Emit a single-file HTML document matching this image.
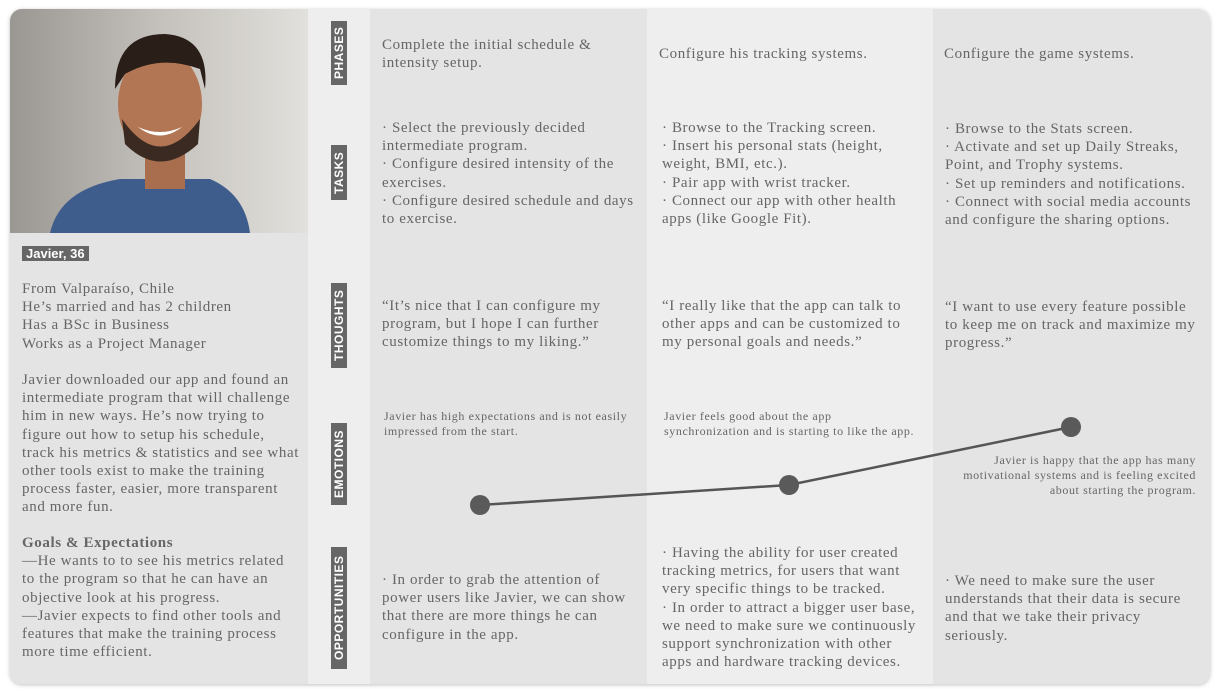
<!DOCTYPE html>
<html><head><style>
body{margin:0;width:1220px;height:695px;background:#fff;position:relative;font-family:"Liberation Serif",serif;color:#666;overflow:hidden}
.card{position:absolute;left:10px;top:9px;width:1200px;height:675px;border-radius:12px;overflow:hidden;background:#eeeeee;box-shadow:0 1px 4px rgba(0,0,0,.25)}
.p{position:absolute;font-size:15px;letter-spacing:0.6px;line-height:18.2px;margin:0;white-space:nowrap}
.s{font-size:12px;letter-spacing:0.6px;line-height:15px}
.lab{position:absolute;left:321px;width:16px;background:#666;color:#fff;font-family:"Liberation Sans",sans-serif;font-weight:bold;font-size:12px;writing-mode:vertical-rl;transform:rotate(180deg);text-align:center;letter-spacing:.5px;line-height:16px}
</style></head><body>
<div class="card">
<div style="position:absolute;left:0;top:0;width:298px;height:675px;background:#e4e4e4"></div>
<div style="position:absolute;left:360px;top:0;width:277px;height:675px;background:#e4e4e4"></div>
<div style="position:absolute;left:923px;top:0;width:277px;height:675px;background:#e4e4e4"></div>
<svg style="position:absolute;left:0;top:0" width="298" height="224">
<defs><linearGradient id="w" x1="0" x2="1"><stop offset="0" stop-color="#9a9792"/><stop offset=".5" stop-color="#c4c1bc"/><stop offset="1" stop-color="#e2e0dc"/></linearGradient></defs>
<rect width="298" height="224" fill="url(#w)"/>
<path d="M40 224 Q50 180 110 170 L200 170 Q235 185 240 224Z" fill="#3f5d8c"/>
<rect x="135" y="140" width="40" height="40" fill="#a86e4e"/>
<ellipse cx="150" cy="95" rx="42" ry="55" fill="#b27654"/>
<path d="M105 80 Q105 25 155 25 Q200 28 195 80 L190 60 Q150 45 115 65Z" fill="#2a1e18"/>
<path d="M112 110 Q150 165 190 110 L188 135 Q150 170 115 135Z" fill="#3a2a22"/>
<path d="M128 118 Q150 135 172 118 Q150 128 128 118Z" fill="#fff"/>
</svg>
<div style="position:absolute;left:12px;top:237px;background:#666;color:#fff;font-family:'Liberation Sans',sans-serif;font-weight:bold;font-size:13px;padding:0 4px;line-height:15px">Javier, 36</div>
<p class="p" style="left:12px;top:271px">From Valparaíso, Chile<br>He’s married and has 2 children<br>Has a BSc in Business<br>Works as a Project Manager</p>
<p class="p" style="left:12px;top:362px">Javier downloaded our app and found an<br>intermediate program that will challenge<br>him in new ways. He’s now trying to<br>figure out how to setup his schedule,<br>track his metrics &amp; statistics and see what<br>other tools exist to make the training<br>process faster, easier, more transparent<br>and more fun.</p>
<p class="p" style="left:12px;top:525px"><b>Goals &amp; Expectations</b><br>—He wants to to see his metrics related<br>to the program so that he can have an<br>objective look at his progress.<br>—Javier expects to find other tools and<br>features that make the training process<br>more time efficient.</p>

<div class="lab" style="top:12px;height:64px">PHASES</div>
<div class="lab" style="top:136px;height:55px">TASKS</div>
<div class="lab" style="top:274px;height:85px">THOUGHTS</div>
<div class="lab" style="top:414px;height:82px">EMOTIONS</div>
<div class="lab" style="top:538px;height:122px">OPPORTUNITIES</div>

<p class="p" style="left:372px;top:27px">Complete the initial schedule &amp;<br>intensity setup.</p>
<p class="p" style="left:649px;top:36px">Configure his tracking systems.</p>
<p class="p" style="left:934px;top:36px">Configure the game systems.</p>

<p class="p" style="left:372px;top:110px">· Select the previously decided<br>intermediate program.<br>· Configure desired intensity of the<br>exercises.<br>· Configure desired schedule and days<br>to exercise.</p>
<p class="p" style="left:652px;top:110px">· Browse to the Tracking screen.<br>· Insert his personal stats (height,<br>weight, BMI, etc.).<br>· Pair app with wrist tracker.<br>· Connect our app with other health<br>apps (like Google Fit).</p>
<p class="p" style="left:935px;top:111px">· Browse to the Stats screen.<br>· Activate and set up Daily Streaks,<br>Point, and Trophy systems.<br>· Set up reminders and notifications.<br>· Connect with social media accounts<br>and configure the sharing options.</p>

<p class="p" style="left:372px;top:288px">“It’s nice that I can configure my<br>program, but I hope I can further<br>customize things to my liking.”</p>
<p class="p" style="left:652px;top:288px">“I really like that the app can talk to<br>other apps and can be customized to<br>my personal goals and needs.”</p>
<p class="p" style="left:935px;top:289px">“I want to use every feature possible<br>to keep me on track and maximize my<br>progress.”</p>

<p class="p s" style="left:374px;top:400px">Javier has high expectations and is not easily<br>impressed from the start.</p>
<p class="p s" style="left:654px;top:400px">Javier feels good about the app<br>synchronization and is starting to like the app.</p>
<p class="p s" style="left:935px;top:444px;width:251px;text-align:right">Javier is happy that the app has many<br>motivational systems and is feeling excited<br>about starting the program.</p>
<svg style="position:absolute;left:0;top:0" width="1200" height="675">
<polyline points="470,496 779,476 1061,418" fill="none" stroke="#555" stroke-width="2.5"/>
<circle cx="470" cy="496" r="10" fill="#5a5a5a"/><circle cx="779" cy="476" r="10" fill="#5a5a5a"/><circle cx="1061" cy="418" r="10" fill="#5a5a5a"/>
</svg>

<p class="p" style="left:372px;top:562px">· In order to grab the attention of<br>power users like Javier, we can show<br>that there are more things he can<br>configure in the app.</p>
<p class="p" style="left:652px;top:535px">· Having the ability for user created<br>tracking metrics, for users that want<br>very specific things to be tracked.<br>· In order to attract a bigger user base,<br>we need to make sure we continuously<br>support synchronization with other<br>apps and hardware tracking devices.</p>
<p class="p" style="left:935px;top:563px">· We need to make sure the user<br>understands that their data is secure<br>and that we take their privacy<br>seriously.</p>
</div>
</body></html>
